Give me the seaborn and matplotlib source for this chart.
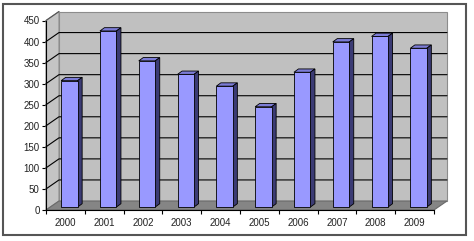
import matplotlib
matplotlib.use('Agg')
import matplotlib.pyplot as plt
import seaborn as sns
import pandas as pd
from matplotlib.transforms import ScaledTranslation, IdentityTransform
from matplotlib.patches import Polygon, Rectangle
from matplotlib.lines import Line2D

years = ['2000', '2001', '2002', '2003', '2004', '2005', '2006', '2007', '2008', '2009']
values = [300, 418, 347, 315, 287, 238, 320, 392, 405, 377]
yticks = [0, 50, 100, 150, 200, 250, 300, 350, 400, 450]

sns.set_theme(style='white')
plt.rcParams['font.family'] = ['Liberation Sans', 'DejaVu Sans']

DPI = 100
fig = plt.figure(figsize=(4.74, 2.41), dpi=DPI)
ax = fig.add_axes([46/474, 31/241, 388/474, 189.5/241])
ax.patch.set_visible(False)

df = pd.DataFrame({'year': years, 'value': values})
sns.barplot(data=df, x='year', y='value', color='#9999ff', saturation=1,
            width=0.425, edgecolor='black', linewidth=0.6, ax=ax, zorder=6)
bars = list(ax.patches)
ax.set_xlim(-0.5, len(years) - 0.5)
ax.set_ylim(yticks[0], yticks[-1])
ax.set_xlabel('')
ax.set_ylabel('')

# depth geometry (display pixels)
WDX, WDY = 13, 9      # wall depth
BDX, BDY = 4, 3       # bar front-face offset
DDX, DDY = 4.5, 3.3   # bar depth

def disp(x, y, dx=0, dy=0):
    px, py = ax.transData.transform((x, y))
    return (px + dx, py + dy)

ident = IdentityTransform()
xl, xr = ax.get_xlim()
y0, y1 = ax.get_ylim()

# back wall
back = Polygon([disp(xl, y0, WDX, WDY), disp(xr, y0, WDX, WDY),
                disp(xr, y1, WDX, WDY), disp(xl, y1, WDX, WDY)],
               closed=True, transform=ident, facecolor='#c0c0c0',
               edgecolor='#8c8c8c', lw=0.8, zorder=0.5, clip_on=False)
ax.add_artist(back)
# left wall
left = Polygon([disp(xl, y0), disp(xl, y0, WDX, WDY), disp(xl, y1, WDX, WDY), disp(xl, y1)],
               closed=True, transform=ident, facecolor='#c4c4c4',
               edgecolor='#8c8c8c', lw=0.8, zorder=0.6, clip_on=False)
ax.add_artist(left)
# floor
floor = Polygon([disp(xl, y0), disp(xr, y0), disp(xr, y0, WDX, WDY), disp(xl, y0, WDX, WDY)],
                closed=True, transform=ident, facecolor='#858585',
                edgecolor='#6a6a6a', lw=0.8, zorder=0.7, clip_on=False)
ax.add_artist(floor)

# gridlines on back & left walls
for t in yticks[1:-1]:
    a = disp(xl, t); b = disp(xl, t, WDX, WDY); c = disp(xr, t, WDX, WDY)
    ax.add_artist(Line2D([a[0], b[0], c[0]], [a[1], b[1], c[1]], transform=ident,
                         color='black', lw=0.8, zorder=1, clip_on=False))
a = disp(xl, y1); b = disp(xl, y1, WDX, WDY)
ax.add_artist(Line2D([a[0], b[0]], [a[1], b[1]], transform=ident,
                     color='#555555', lw=0.8, zorder=1, clip_on=False))

# 3D bar faces
bar_off = ScaledTranslation(BDX / DPI, BDY / DPI, fig.dpi_scale_trans)
for p in bars:
    x0, w, h = p.get_x(), p.get_width(), p.get_height()
    p.set_transform(ax.transData + bar_off)
    p.set_clip_on(False)
    top = Polygon([disp(x0, h, BDX, BDY), disp(x0 + w, h, BDX, BDY),
                   disp(x0 + w, h, BDX + DDX, BDY + DDY), disp(x0, h, BDX + DDX, BDY + DDY)],
                  closed=True, transform=ident, facecolor='#7c7cd6',
                  edgecolor='black', lw=0.6, zorder=5, clip_on=False)
    side = Polygon([disp(x0 + w, 0, BDX, BDY), disp(x0 + w, h, BDX, BDY),
                    disp(x0 + w, h, BDX + DDX, BDY + DDY), disp(x0 + w, 0, BDX + DDX, BDY + DDY)],
                   closed=True, transform=ident, facecolor='#3b3b74',
                   edgecolor='black', lw=0.6, zorder=5, clip_on=False)
    ax.add_artist(top)
    ax.add_artist(side)

# axes styling
for s in ['top', 'right']:
    ax.spines[s].set_visible(False)
for s in ['left', 'bottom']:
    ax.spines[s].set_color('black')
    ax.spines[s].set_linewidth(0.8)
    ax.spines[s].set_zorder(7)
ax.set_yticks(yticks)
ax.set_yticklabels([str(t) for t in yticks])
ax.set_xticks(range(len(years)))
ax.set_xticklabels(years)
ax.set_xticks([i - 0.5 for i in range(len(years) + 1)], minor=True)
ax.tick_params(axis='y', which='major', length=3, width=0.8, color='black',
               direction='out', left=True, pad=1.5, labelsize=7, labelcolor='#222222')
ax.tick_params(axis='x', which='major', length=0, pad=6, labelsize=7, labelcolor='#222222')
ax.tick_params(axis='x', which='minor', length=3, width=0.8, color='black',
               direction='out', bottom=True)

# outer chart border
fig.add_artist(Rectangle((3 / 474, 6 / 241), 463 / 474, 231.5 / 241,
                         transform=fig.transFigure, facecolor='none',
                         edgecolor='#555555', lw=1.5))

fig.savefig('out.png', dpi=DPI)
